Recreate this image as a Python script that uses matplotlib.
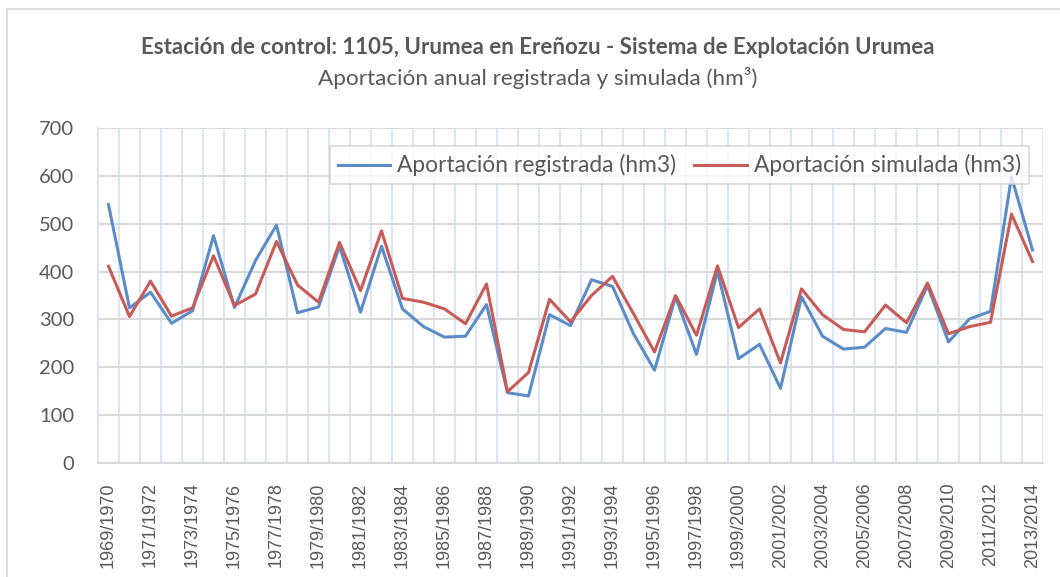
import numpy as np
import matplotlib
matplotlib.use('Agg')
import matplotlib.pyplot as plt
from matplotlib.patches import Rectangle

# annual inflow (hm3), 1969/1970 .. 2013/2014
years = ['%d/%d' % (y, y + 1) for y in range(1969, 2014)]
registrada = [540, 324, 357, 292, 318, 475, 325, 423, 497, 314,
              326, 453, 315, 453, 322, 285, 263, 265, 331, 147,
              140, 310, 287, 383, 369, 270, 194, 347, 227, 401,
              218, 248, 156, 347, 265, 238, 242, 281, 273, 371,
              253, 301, 317, 598, 445]
simulada = [411, 306, 380, 307, 324, 433, 329, 353, 463, 372,
            336, 461, 360, 485, 344, 336, 322, 291, 374, 149,
            189, 342, 295, 350, 390, 312, 232, 350, 267, 412,
            283, 322, 209, 364, 310, 279, 274, 330, 293, 376,
            270, 285, 294, 520, 421]

plt.rcParams['font.family'] = ['Lato', 'DejaVu Sans']
txt = '#595959'

fig = plt.figure(figsize=(10.6, 5.77), dpi=100)
fig.patches.append(Rectangle((7 / 1060, -0.1), 1.2, 1 - 9 / 577 + 0.1,
                             transform=fig.transFigure, fill=False,
                             edgecolor='#d9d9d9', linewidth=1.2))
ax = fig.add_axes([98 / 1060, 1 - 463 / 577, 945 / 1060, 335 / 577])

x = np.arange(len(years))
ax.plot(x, registrada, color='#5B8BC8', lw=2.2, label='Aportación registrada (hm3)', zorder=3)
ax.plot(x, simulada, color='#C65B58', lw=2.2, label='Aportación simulada (hm3)', zorder=3)

ax.set_xlim(-0.5, len(years) - 0.5)
ax.set_ylim(0, 700)
ax.set_yticks(range(0, 701, 100))
ax.set_xticks(x[::2])
ax.set_xticklabels(years[::2], rotation=90, fontsize=13, color=txt,
                   family=['Liberation Sans', 'DejaVu Sans'])
ax.set_xticks(np.arange(-0.5, len(years), 1), minor=True)
ax.tick_params(axis='both', which='both', length=0)
ax.tick_params(axis='y', labelsize=14.5, labelcolor=txt, pad=17)
ax.tick_params(axis='x', pad=14)

ax.grid(axis='y', which='major', color='#d9d9d9', lw=1.5, zorder=1)
ax.grid(axis='x', which='minor', color='#dce6f2', lw=1.5, zorder=1)
ax.grid(axis='x', which='major', visible=False)
for s in ['top', 'right']:
    ax.spines[s].set_visible(False)
ax.spines['left'].set_color('#dce6f2')
ax.spines['left'].set_linewidth(1.5)
ax.spines['bottom'].set_color('#d9d9d9')
ax.spines['bottom'].set_linewidth(1.5)

leg = ax.legend(loc='upper right', bbox_to_anchor=(0.997, 0.98), ncol=2,
                fontsize=16.4, frameon=True, fancybox=False, handlelength=2.3,
                columnspacing=0.8, handletextpad=0.3, borderpad=0.35,
                handleheight=0.6)
leg.get_frame().set_edgecolor('#d0d0d0')
leg.get_frame().set_linewidth(1.2)
leg.set_zorder(5)
for t in leg.get_texts():
    t.set_color(txt)

fig.text(538 / 1060, 1 - 48 / 577, 'Estación de control: 1105, Urumea en Ereñozu - Sistema de Explotación Urumea',
         ha='center', va='center', fontsize=16, fontweight='bold', color=txt)
fig.text(538 / 1060, 1 - 78 / 577, 'Aportación anual registrada y simulada (hm³)',
         ha='center', va='center', fontsize=16.2, color=txt)

fig.savefig('out.png', dpi=100)
